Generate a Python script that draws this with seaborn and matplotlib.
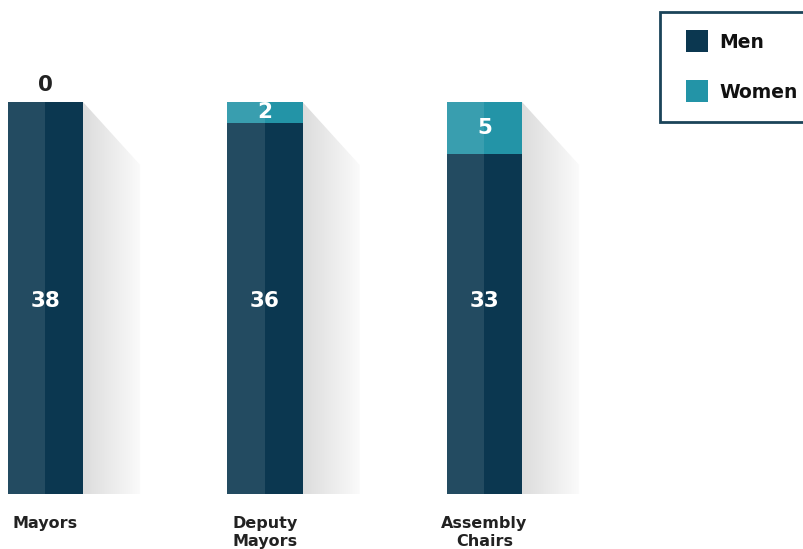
import numpy as np
import matplotlib
matplotlib.use("Agg")
import matplotlib.pyplot as plt
from matplotlib.patches import Polygon
from matplotlib.lines import Line2D
from matplotlib.colors import LinearSegmentedColormap
import seaborn as sns

# data
categories = ["Mayors", "Deputy\nMayors", "Assembly\nChairs"]
men = [38, 36, 33]
women = [0, 2, 5]
totals = [m + w for m, w in zip(men, women)]

men_color = "#0b3750"
women_color = "#2394a7"
text_dark = "#222222"

sns.set_style("white")
plt.rcParams["font.family"] = ["DejaVu Sans"]
plt.rcParams["font.weight"] = "bold"

fig = plt.figure(figsize=(8.04, 5.49), dpi=100)
ax = fig.add_axes([0, 1 - 494 / 549, 1, 494 / 549])

bar_w = 0.342

# stacked bars: total in women colour, men over it
sns.barplot(x=categories, y=totals, color=women_color, saturation=1,
            width=bar_w, linewidth=0, ax=ax, zorder=3)
sns.barplot(x=categories, y=men, color=men_color, saturation=1,
            width=bar_w, linewidth=0, ax=ax, zorder=4)

xs = np.arange(len(categories))

# lighter left half for the 3d look
ax.bar(xs - bar_w / 4, totals, width=bar_w / 2, color="white", alpha=0.1,
       linewidth=0, zorder=5)

# gray gradient shadow to the right of each bar
shadow_w = 0.26
drop = 6.1
cmap = LinearSegmentedColormap.from_list("shade", ["#dcdcdc", "#fbfbfb"])
grad = np.linspace(0, 1, 256).reshape(1, -1)
for x, t in zip(xs, totals):
    x0 = x + bar_w / 2
    poly = Polygon([(x0, t), (x0 + shadow_w, t - drop), (x0 + shadow_w, 0), (x0, 0)],
                   closed=True, facecolor="none", edgecolor="none")
    ax.add_patch(poly)
    im = ax.imshow(grad, cmap=cmap, aspect="auto",
                   extent=[x0, x0 + shadow_w, 0, t], zorder=1)
    im.set_clip_path(poly)

# value labels
for x, m, w, t in zip(xs, men, women, totals):
    ax.text(x, t / 2 - 0.3, str(m), ha="center", va="center", color="white",
            fontsize=15.5, fontweight="bold", zorder=6)
    if w == 0:
        ax.text(x, t + 0.7, str(w), ha="center", va="bottom", color=text_dark,
                fontsize=15.5, fontweight="bold", zorder=6)
    else:
        ax.text(x, m + w / 2, str(w), ha="center", va="center", color="white",
                fontsize=15.5, fontweight="bold", zorder=6)

ax.set_xlim(-45.5 / 219.5, (804 - 45.5) / 219.5)
ax.set_ylim(0, 38 * 494 / 392)
ax.set_yticks([])
ax.set_ylabel("")
ax.tick_params(axis="x", length=0, pad=16, labelsize=11.5, colors=text_dark)
for lab in ax.get_xticklabels():
    lab.set_fontweight("bold")
    lab.set_linespacing(1.25)
sns.despine(ax=ax, left=True, bottom=True)

handles = [
    Line2D([], [], marker="s", linestyle="none", markersize=16.5,
           markerfacecolor=men_color, markeredgewidth=0),
    Line2D([], [], marker="s", linestyle="none", markersize=16.5,
           markerfacecolor=women_color, markeredgewidth=0),
]
leg = fig.legend(handles, ["Men", "Women"], loc="upper left",
                 bbox_to_anchor=(660 / 804, 1 - 12 / 549), borderaxespad=0,
                 frameon=True, fancybox=False, framealpha=1,
                 handlelength=1.7, handletextpad=0.35, labelspacing=1.65,
                 borderpad=1.1, prop={"weight": "bold", "size": 13.5})
leg.get_frame().set_edgecolor("#1b4459")
leg.get_frame().set_linewidth(2.0)
for t in leg.get_texts():
    t.set_color("#111111")

fig.savefig("out.png", dpi=100)
